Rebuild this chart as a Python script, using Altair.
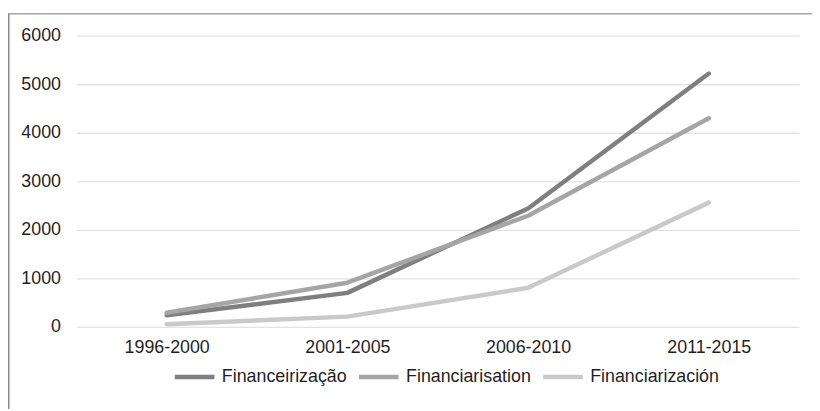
import altair as alt
import pandas as pd

periods = ["1996-2000", "2001-2005", "2006-2010", "2011-2015"]
series_names = ["Financeirização", "Financiarisation", "Financiarización"]
financeirizacao = [240, 700, 2440, 5220]
financiarisation = [290, 910, 2290, 4300]
financiarizacion = [55, 210, 805, 2560]
colors = ["#7f7f7f", "#a5a5a5", "#c9c9c9"]
y_ticks = [0, 1000, 2000, 3000, 4000, 5000, 6000]

rows = []
for name, vals in zip(series_names, [financeirizacao, financiarisation, financiarizacion]):
    for p, v in zip(periods, vals):
        rows.append({"period": p, "series": name, "value": v})
df = pd.DataFrame(rows)

FONT = "Liberation Sans"
TXT = "#1f1f1f"

lines = alt.Chart(df).mark_line(strokeWidth=4.5, strokeCap="round", strokeJoin="round").encode(
    x=alt.X("period:N", sort=periods,
            scale=alt.Scale(type="point", padding=0.5),
            axis=alt.Axis(title=None, labelAngle=0, domain=False, ticks=False, grid=False,
                          labelPadding=12, labelFontSize=18, labelColor=TXT, labelFont=FONT)),
    y=alt.Y("value:Q", scale=alt.Scale(domain=[0, 6000], nice=False),
            axis=alt.Axis(title=None, values=y_ticks, format="d", domain=False, ticks=False,
                          gridColor="#e3e3e3", gridWidth=1.3, labelPadding=16,
                          labelFontSize=18, labelColor=TXT, labelFont=FONT)),
    color=alt.Color("series:N", sort=series_names,
                    scale=alt.Scale(domain=series_names, range=colors),
                    legend=alt.Legend(title=None, orient="none", legendX=97, legendY=322,
                                      direction="horizontal", symbolType="stroke",
                                      symbolSize=1600, symbolStrokeWidth=4.5,
                                      labelFontSize=18, labelFont=FONT, labelColor=TXT,
                                      labelOffset=5, columnPadding=2, padding=0)),
)

anchor = pd.DataFrame({"a": [0]})
top_border = alt.Chart(anchor).mark_rule(color="#a6a6a6", strokeWidth=1.5).encode(
    x=alt.value(-69), x2=alt.value(743), y=alt.value(-22.3))
left_border = alt.Chart(anchor).mark_rule(color="#8a8a8a", strokeWidth=2).encode(
    x=alt.value(-68.5), y=alt.value(-22.3), y2=alt.value(377))

chart = alt.layer(top_border, left_border, lines).properties(
    width=730, height=294,
    padding={"left": 69, "top": 26, "right": 13, "bottom": 83},
    autosize=alt.AutoSizeParams(type="none"),
    background="white",
).configure_view(strokeWidth=0)

chart.save("out.html", embed_options={"renderer": "svg", "actions": False})
